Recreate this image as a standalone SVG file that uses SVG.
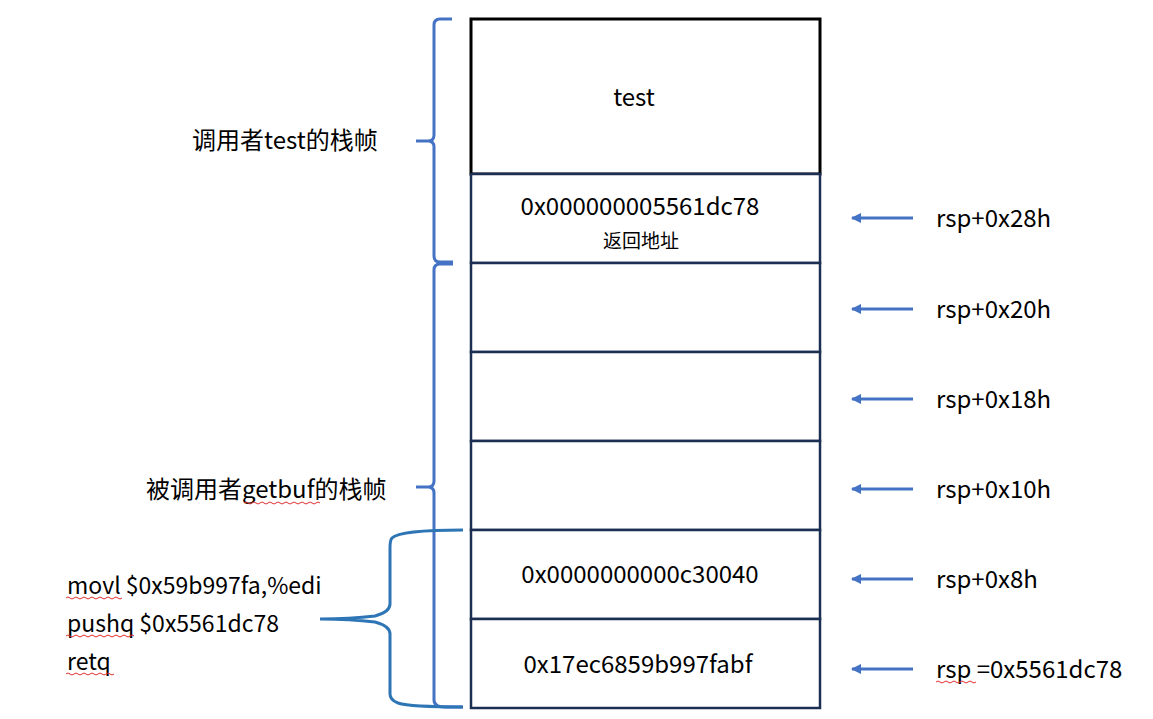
<svg xmlns="http://www.w3.org/2000/svg" width="1153" height="719" viewBox="0 0 1153 719">
<defs>
<style>
text{font-family:"Noto Sans CJK SC","Liberation Sans",sans-serif;fill:#000;}
.t{font-size:24px;}
.c{font-size:23px;}
.s{font-size:19px;}
.cell{fill:#fff;stroke:#1b2f52;stroke-width:2.5;}
.brace{fill:none;stroke:#4472c4;stroke-width:3;}
.brace2{fill:none;stroke:#2e75b6;stroke-width:3;}
.arr{stroke:#4472c4;stroke-width:3;marker-end:url(#ah);}
.sq{fill:none;stroke:#e03030;stroke-width:1;}
</style>
<marker id="ah" viewBox="0 0 10 10" refX="9" refY="5" markerWidth="3.5" markerHeight="3.5" orient="auto" markerUnits="strokeWidth">
<path d="M0,0 L10,5 L0,10 z" fill="#4472c4"/>
</marker>
</defs>
<rect width="1153" height="719" fill="#fff"/>
<g id="stack">
<g id="cell-test"><rect x="471" y="19" width="349" height="155" fill="#fff" stroke="#000" stroke-width="3"/><text class="t" x="634" y="106" text-anchor="middle">test</text></g>
<g id="cell-ret"><rect class="cell" x="471" y="174" width="349" height="89"/><text class="t" x="640" y="215" text-anchor="middle">0x000000005561dc78</text><text class="s" x="641" y="248" text-anchor="middle">返回地址</text></g>
<g id="cell-20"><rect class="cell" x="471" y="263" width="349" height="89"/></g>
<g id="cell-18"><rect class="cell" x="471" y="352" width="349" height="89"/></g>
<g id="cell-10"><rect class="cell" x="471" y="441" width="349" height="89"/></g>
<g id="cell-8"><rect class="cell" x="471" y="530" width="349" height="89"/><text class="t" x="640" y="583" text-anchor="middle">0x0000000000c30040</text></g>
<g id="cell-0"><rect class="cell" x="471" y="619" width="349" height="89"/><text class="t" x="638" y="673" text-anchor="middle">0x17ec6859b997fabf</text></g>
</g>
<g id="brace-test">
<path class="brace" d="M452,19 L440,19 Q434,19 434,25 L434,135 Q434,141 428,141 L416,141 L428,141 Q434,141 434,147 L434,256 Q434,262 440,262 L453,262"/>
<text class="t" x="192" y="149">调用者test的栈帧</text>
</g>
<g id="brace-getbuf">
<path class="brace" d="M453,264 L440,264 Q434,264 434,270 L434,481 Q434,487 428,487 L416,487 L428,487 Q434,487 434,493 L434,700 Q434,707 445,707 L463,707"/>
<text class="t" x="146" y="498">被调用者getbuf的栈帧</text>
<path class="sq" d="M244,503 q2,-2 4,0 t4,0 t4,0 t4,0 t4,0 t4,0 t4,0 t4,0 t4,0 t4,0 t4,0 t4,0 t4,0 t4,0 t4,0 t4,0 t4,0 t4,0 t4,0"/>
</g>
<g id="brace-code">
<path class="brace2" d="M463,530 Q400,530 392,538 Q390,540 390,548 L390,604 Q390,612 375,616 Q350,619 320,619 Q350,619 375,622 Q390,626 390,634 L390,694 Q390,700 398,703 Q410,707 463,707"/>
<text class="c" x="67" y="594">movl $0x59b997fa,%edi</text>
<text class="c" x="67" y="632">pushq $0x5561dc78</text>
<text class="c" x="67" y="670">retq</text>
<path class="sq" d="M66,598 q2,-2 4,0 t4,0 t4,0 t4,0 t4,0 t4,0 t4,0 t4,0 t4,0 t4,0 t4,0 t4,0 t4,0 t4,0"/>
<path class="sq" d="M66,636 q2,-2 4,0 t4,0 t4,0 t4,0 t4,0 t4,0 t4,0 t4,0 t4,0 t4,0 t4,0 t4,0 t4,0 t4,0 t4,0 t4,0 t4,0"/>
<path class="sq" d="M66,674 q2,-2 4,0 t4,0 t4,0 t4,0 t4,0 t4,0 t4,0 t4,0 t4,0 t4,0 t4,0 t4,0"/>
</g>
<g id="connectors">
<line class="arr" x1="913" y1="218" x2="852" y2="218"/>
<line class="arr" x1="913" y1="309" x2="852" y2="309"/>
<line class="arr" x1="913" y1="399" x2="852" y2="399"/>
<line class="arr" x1="913" y1="489" x2="852" y2="489"/>
<line class="arr" x1="913" y1="579" x2="852" y2="579"/>
<line class="arr" x1="913" y1="669" x2="852" y2="669"/>
</g>
<g id="labels">
<text class="t" x="936" y="227">rsp+0x28h</text>
<text class="t" x="936" y="318">rsp+0x20h</text>
<text class="t" x="936" y="408">rsp+0x18h</text>
<text class="t" x="936" y="498">rsp+0x10h</text>
<text class="t" x="936" y="588">rsp+0x8h</text>
<text class="t" x="936" y="678">rsp =0x5561dc78</text>
<path class="sq" d="M936,682 q2,-2 4,0 t4,0 t4,0 t4,0 t4,0 t4,0 t4,0 t4,0 t4,0 t4,0"/>
</g>
</svg>
